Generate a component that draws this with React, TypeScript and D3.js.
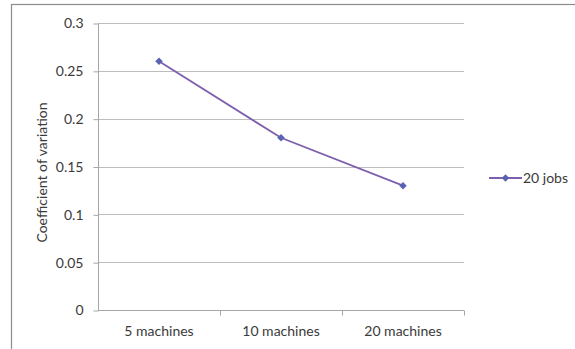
import * as React from "react";
import * as d3 from "d3";

const categories = ["5 machines", "10 machines", "20 machines"];
const seriesName = "20 jobs";
const values = [0.26, 0.18, 0.13];
const yTicks = [0, 0.05, 0.1, 0.15, 0.2, 0.25, 0.3];

export default function App() {
  const ref = React.useRef<SVGSVGElement | null>(null);

  React.useEffect(() => {
    const width = 575;
    const height = 349;
    const plot = { left: 98, right: 464, top: 23, bottom: 310 };
    const font = "Lato, 'Open Sans', sans-serif";
    const fontSize = "14px";
    const textColor = "#3a3a3a";
    const lineColor = "#7e5fae";
    const markerColor = "#5a63b3";

    const svg = d3.select(ref.current);
    svg.selectAll("*").remove();
    svg.attr("width", width).attr("height", height);

    svg.append("rect").attr("width", width).attr("height", height).attr("fill", "#fff");

    // outer chart border (right/bottom are off the picture)
    svg.append("rect")
      .attr("x", 11.5).attr("y", 4.5)
      .attr("width", width + 10).attr("height", height + 10)
      .attr("fill", "none")
      .attr("stroke", "#8c8c8c")
      .attr("stroke-width", 1.2);

    const x = d3.scaleBand().domain(categories).range([plot.left, plot.right]).padding(0);
    const y = d3.scaleLinear().domain([0, 0.3]).range([plot.bottom, plot.top]);

    // gridlines
    svg.append("g")
      .selectAll("line")
      .data(yTicks.filter(t => t > 0))
      .enter()
      .append("line")
      .attr("x1", plot.left).attr("x2", plot.right)
      .attr("y1", d => Math.round(y(d)) + 0.5).attr("y2", d => Math.round(y(d)) + 0.5)
      .attr("stroke", "#bdbdbd")
      .attr("stroke-width", 1);

    // y axis
    const yAxis = d3.axisLeft(y)
      .tickValues(yTicks)
      .tickSize(5)
      .tickPadding(10)
      .tickFormat(d => String(d));
    const yg = svg.append("g").attr("transform", `translate(${plot.left + 0.5},0.5)`).call(yAxis);
    yg.select(".domain").attr("stroke", "#a6a6a6").attr("d", `M0,${plot.top}V${plot.bottom}`);
    yg.selectAll(".tick line").attr("stroke", "#a6a6a6");
    yg.selectAll("text").attr("fill", textColor).style("font-family", font).style("font-size", fontSize);

    // x axis
    const xAxis = d3.axisBottom(x).tickSize(0).tickPadding(16);
    const xg = svg.append("g").attr("transform", `translate(0,${plot.bottom + 0.5})`).call(xAxis);
    xg.select(".domain").attr("stroke", "#a6a6a6").attr("d", `M${plot.left},0H${plot.right}`);
    xg.selectAll("text").attr("fill", textColor).style("font-family", font).style("font-size", fontSize);
    // category boundary ticks
    xg.append("g")
      .selectAll("line")
      .data(categories)
      .enter()
      .append("line")
      .attr("x1", d => Math.round((x(d) as number) + x.bandwidth()) + 0.5)
      .attr("x2", d => Math.round((x(d) as number) + x.bandwidth()) + 0.5)
      .attr("y1", 0).attr("y2", 5)
      .attr("stroke", "#a6a6a6");

    // y title
    svg.append("text")
      .attr("transform", `translate(47,${(plot.top + plot.bottom) / 2 + 6}) rotate(-90)`)
      .attr("text-anchor", "middle")
      .attr("fill", textColor)
      .style("font-family", font)
      .style("font-size", fontSize)
      .text("Coefficient of variation");

    // series
    const pts = categories.map((c, i) => ({ c, v: values[i] }));
    const line = d3.line<{ c: string; v: number }>()
      .x(d => (x(d.c) as number) + x.bandwidth() / 2)
      .y(d => y(d.v));
    svg.append("path")
      .datum(pts)
      .attr("d", line)
      .attr("fill", "none")
      .attr("stroke", lineColor)
      .attr("stroke-width", 1.8);

    const diamond = d3.symbol().type(d3.symbolDiamond2).size(36);
    svg.append("g")
      .selectAll("path")
      .data(pts)
      .enter()
      .append("path")
      .attr("d", diamond)
      .attr("transform", d => `translate(${(x(d.c) as number) + x.bandwidth() / 2},${y(d.v)})`)
      .attr("fill", markerColor);

    // legend
    const lg = svg.append("g").attr("transform", "translate(489,178)");
    lg.append("line").attr("x1", 0).attr("x2", 33).attr("y1", 0).attr("y2", 0)
      .attr("stroke", lineColor).attr("stroke-width", 1.8);
    lg.append("path").attr("d", diamond).attr("transform", "translate(16.5,0)").attr("fill", markerColor);
    lg.append("text")
      .attr("x", 34).attr("y", 0).attr("dy", "0.35em")
      .attr("fill", textColor)
      .style("font-family", font)
      .style("font-size", fontSize)
      .text(seriesName);
  }, []);

  return (
    <div style={{ position: "absolute", left: 0, top: 0 }}>
      <svg ref={ref} style={{ display: "block" }} />
    </div>
  );
}
